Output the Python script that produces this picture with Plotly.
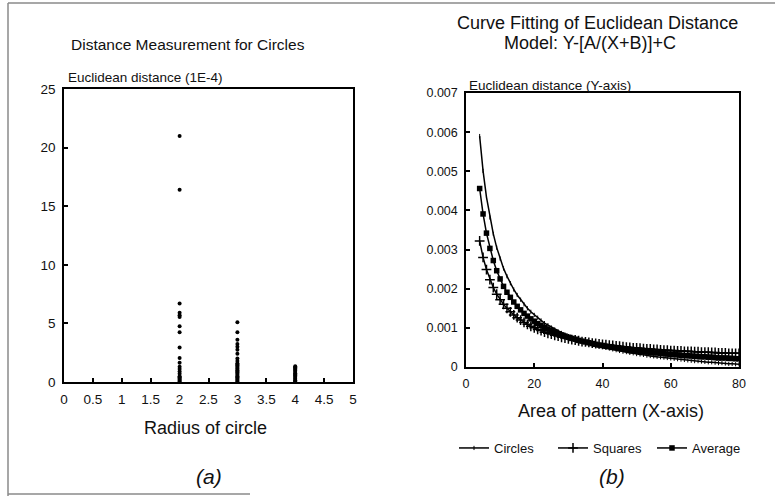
import plotly.graph_objects as go

W, H = 775, 496
FONT = "Liberation Sans, Arial, Helvetica, sans-serif"

# ---------------- data: panel (a) ----------------
# Euclidean distance (units of 1E-4) vs radius of circle
r2_vals = [21.0, 16.4, 6.7, 5.9, 5.7, 5.55, 4.75, 4.25, 2.95, 2.05, 1.65, 1.3, 1.1,
           0.9, 0.7, 0.5, 0.4, 0.3, 0.2, 0.1, 0.0]
r3_vals = [5.1, 4.25, 3.6, 3.25, 3.0, 2.75, 2.4, 2.0, 1.8, 1.6, 1.5, 1.4, 1.3, 1.2,
           1.1, 1.0, 0.9, 0.8, 0.7, 0.6, 0.5, 0.4, 0.3, 0.2, 0.1, 0.0]
r4_vals = [1.35, 1.25, 1.15, 1.05, 0.95, 0.85, 0.75, 0.65, 0.55, 0.45, 0.35, 0.25,
           0.15, 0.05, 0.0]

# ---------------- data: panel (b) ----------------
area = list(range(4, 81))
# values in units of 1E-4
circles = [59.0, 50.1, 43.4, 38.2, 34.0, 30.5, 27.7, 25.2, 23.2, 21.4, 19.8, 18.4,
           17.2, 16.0, 15.0, 14.1, 13.3, 12.6, 11.9, 11.2, 10.7, 10.1, 9.6, 9.1,
           8.7, 8.3, 7.9, 7.6, 7.2, 6.9, 6.6, 6.3, 6.0, 5.8, 5.5, 5.3, 5.1, 4.9,
           4.7, 4.5, 4.3, 4.1, 3.9, 3.8, 3.6, 3.5, 3.3, 3.2, 3.1, 2.9, 2.8, 2.7,
           2.6, 2.5, 2.4, 2.3, 2.2, 2.1, 2.0, 1.9, 1.8, 1.7, 1.6, 1.5, 1.5, 1.4,
           1.3, 1.2, 1.2, 1.1, 1.0, 1.0, 0.9, 0.8, 0.8, 0.7, 0.7]
squares = [32.2, 28.0, 24.9, 22.3, 20.3, 18.6, 17.2, 16.0, 15.0, 14.1, 13.3, 12.6,
           12.0, 11.4, 10.9, 10.4, 10.0, 9.6, 9.3, 8.9, 8.6, 8.4, 8.1, 7.9, 7.6,
           7.4, 7.2, 7.0, 6.9, 6.7, 6.5, 6.4, 6.3, 6.1, 6.0, 5.9, 5.8, 5.7, 5.6,
           5.5, 5.4, 5.3, 5.2, 5.1, 5.0, 4.9, 4.9, 4.8, 4.7, 4.6, 4.6, 4.5, 4.5,
           4.4, 4.3, 4.3, 4.2, 4.2, 4.1, 4.1, 4.0, 4.0, 3.96, 3.9, 3.9, 3.8, 3.8,
           3.8, 3.7, 3.7, 3.6, 3.6, 3.6, 3.5, 3.5, 3.5, 3.5]
average = [45.6, 39.1, 34.2, 30.3, 27.2, 24.6, 22.5, 20.6, 19.1, 17.8, 16.6, 15.5,
           14.6, 13.7, 13.0, 12.3, 11.7, 11.1, 10.6, 10.1, 9.7, 9.3, 8.9, 8.5,
           8.2, 7.9, 7.6, 7.3, 7.1, 6.8, 6.6, 6.4, 6.2, 6.0, 5.8, 5.6, 5.5, 5.3,
           5.2, 5.0, 4.9, 4.7, 4.6, 4.5, 4.3, 4.2, 4.1, 4.0, 3.9, 3.8, 3.7, 3.6,
           3.6, 3.5, 3.4, 3.3, 3.2, 3.2, 3.1, 3.0, 2.9, 2.9, 2.8, 2.7, 2.7, 2.6,
           2.6, 2.5, 2.5, 2.4, 2.3, 2.3, 2.3, 2.2, 2.2, 2.1, 2.1]
SCALE_B = 1e-4


def px(x):
    return x / W


def py(y):
    return 1 - y / H


fig = go.Figure()

# panel (a) scatter
for r, vals in [(2, r2_vals), (3, r3_vals), (4, r4_vals)]:
    fig.add_trace(go.Scatter(
        x=[r] * len(vals), y=vals, mode="markers",
        marker=dict(color="black", size=4, line=dict(width=0)),
        showlegend=False, xaxis="x", yaxis="y", hoverinfo="skip"))

# panel (b) curves
fig.add_trace(go.Scatter(
    x=area, y=[v * SCALE_B for v in circles], mode="lines+markers", name="Circles",
    line=dict(color="black", width=1.5),
    marker=dict(symbol="line-ns", size=3, line=dict(width=1, color="black")),
    xaxis="x2", yaxis="y2"))
fig.add_trace(go.Scatter(
    x=area, y=[v * SCALE_B for v in squares], mode="lines+markers", name="Squares",
    line=dict(color="black", width=1.5),
    marker=dict(symbol="cross-thin", size=7, line=dict(width=1.5, color="black")),
    xaxis="x2", yaxis="y2"))
fig.add_trace(go.Scatter(
    x=area, y=[v * SCALE_B for v in average], mode="lines+markers", name="Average",
    line=dict(color="black", width=1.5),
    marker=dict(symbol="square", size=5.5, color="black"),
    xaxis="x2", yaxis="y2"))

axis_common = dict(showline=True, mirror=True, linecolor="black", linewidth=1.5,
                   ticks="inside", tickcolor="black", tickwidth=1.5, ticklen=4,
                   showgrid=False, zeroline=False, automargin=False,
                   ticklabelstandoff=4)
tick_a = dict(family=FONT, size=13.5, color="#111")
tick_b = dict(family=FONT, size=12.5, color="#111")

fig.update_layout(
    width=W, height=H,
    margin=dict(l=0, r=0, t=0, b=0, pad=0, autoexpand=False),
    paper_bgcolor="white", plot_bgcolor="white",
    font=dict(family=FONT, color="#111"),
    xaxis=dict(domain=[px(64), px(353)], range=[0, 5], dtick=0.5, anchor="y",
               tickfont=tick_a, **axis_common),
    yaxis=dict(domain=[py(382), py(89)], range=[0, 25], dtick=5, anchor="x",
               tickfont=tick_a, **axis_common),
    xaxis2=dict(domain=[px(466), px(739)], range=[0, 80], dtick=20, anchor="y2",
                tickfont=tick_b, **axis_common),
    yaxis2=dict(domain=[py(367), py(93)], range=[0, 0.007], dtick=0.001, anchor="x2",
                tickfont=tick_b, **axis_common),
    legend=dict(orientation="h", x=px(454), y=py(448), xanchor="left", yanchor="middle",
                font=dict(family=FONT, size=13, color="#111"),
                entrywidth=54, entrywidthmode="pixels", itemwidth=30,
                tracegroupgap=0, bgcolor="rgba(0,0,0,0)"),
)

annotations = [
    dict(text="Distance Measurement for Circles", x=px(188), y=py(45), size=15.5),
    dict(text="Euclidean distance (1E-4)", x=px(66), y=py(77), size=13.5, xanchor="left"),
    dict(text="Radius of circle", x=px(205), y=py(428), size=18),
    dict(text="<i>(a)</i>", x=px(209), y=py(476), size=21),
    dict(text="Curve Fitting of Euclidean Distance", x=px(597), y=py(23), size=18),
    dict(text="Model: Y-[A/(X+B)]+C", x=px(590), y=py(43), size=18),
    dict(text="Euclidean distance (Y-axis)", x=px(467), y=py(85), size=13.5, xanchor="left"),
    dict(text="Area of pattern (X-axis)", x=px(611), y=py(411), size=18),
    dict(text="<i>(b)</i>", x=px(612), y=py(476), size=21),
]
fig.update_layout(annotations=[
    dict(text=a["text"], x=a["x"], y=a["y"], xref="paper", yref="paper",
         xanchor=a.get("xanchor", "center"), yanchor="middle", showarrow=False,
         font=dict(family=FONT, size=a["size"], color="#111"))
    for a in annotations
])

# scanned page frame
frame = dict(color="#8a8a8a", width=1.5)
fig.update_layout(shapes=[
    dict(type="line", xref="paper", yref="paper", x0=px(8), x1=1, y0=py(3), y1=py(3), line=frame),
    dict(type="line", xref="paper", yref="paper", x0=px(8), x1=px(8), y0=py(3), y1=py(496), line=frame),
    dict(type="line", xref="paper", yref="paper", x0=px(8), x1=px(250), y0=py(494), y1=py(494), line=frame),
])

fig.write_html("out.html", config={"displayModeBar": False},
               post_script="document.body.style.margin='0';")
